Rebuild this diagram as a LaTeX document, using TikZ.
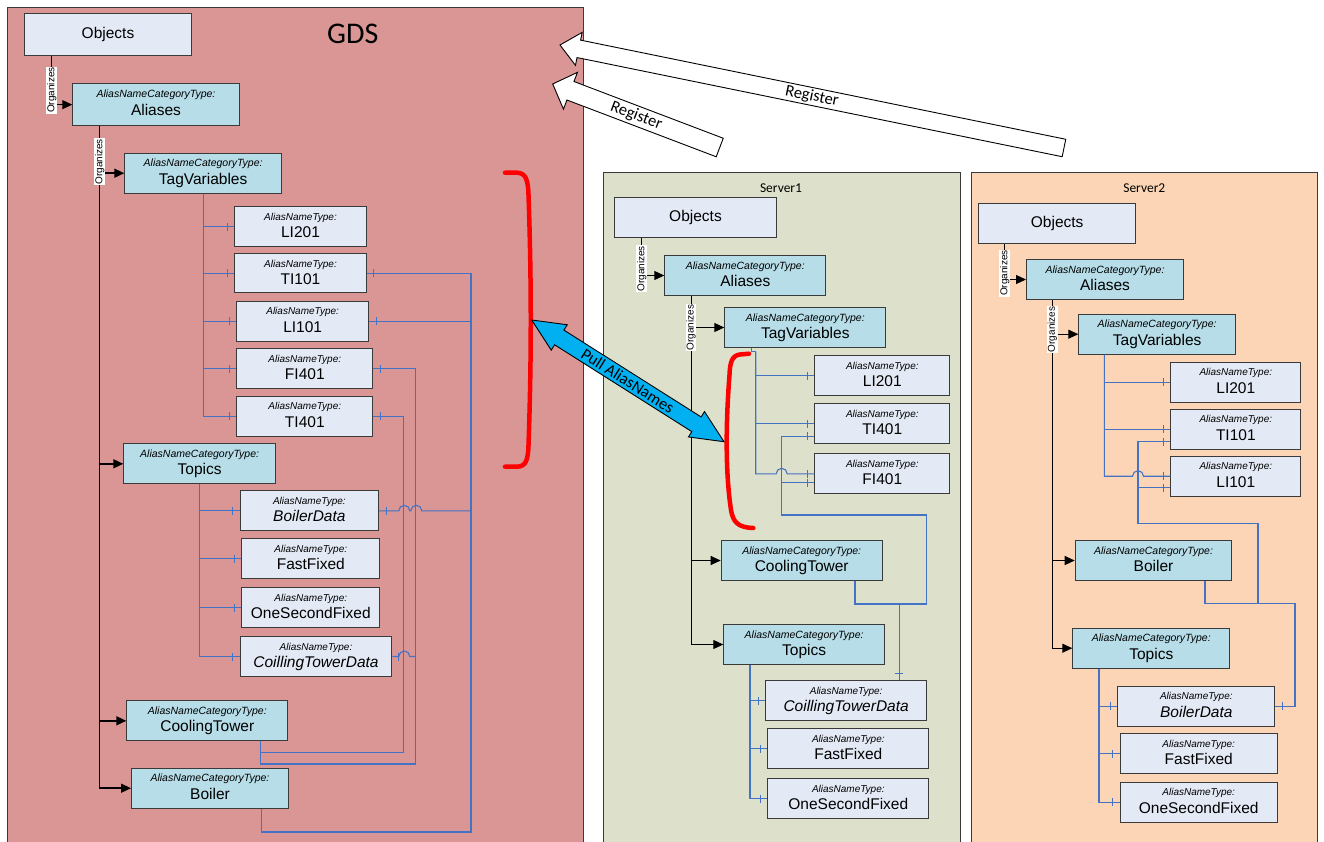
\documentclass[tikz,border=0pt]{standalone}
\usepackage{fontspec}
\setmainfont{Liberation Sans}
\newfontfamily\calfont{Carlito}
\usetikzlibrary{arrows.meta,decorations.markings}
\definecolor{gdsfill}{HTML}{D99694}
\definecolor{sonefill}{HTML}{DDE0CB}
\definecolor{stwofill}{HTML}{FBD5B5}
\definecolor{objfill}{HTML}{E4EAF5}
\definecolor{catfill}{HTML}{B7DDE8}
\definecolor{bdr}{HTML}{3A3A3A}
\definecolor{blu}{HTML}{4472C4}
\definecolor{pull}{HTML}{00B0F0}
\begin{document}
\begin{tikzpicture}[x=1pt,y=-1pt,
  box/.style={draw=bdr,line width=1pt,anchor=north west,inner sep=0pt,minimum height=40pt,font=\fontsize{15.5}{18}\selectfont},
  objbox/.style={box,fill=objfill},
  typlab/.style={anchor=base,yshift=-14pt,inner sep=0pt},
  catbox/.style={box,fill=catfill,text height=22pt,text depth=0pt,
    label={[typlab]north:{\fontsize{10.5}{12}\selectfont\itshape AliasNameCategoryType:}}},
  anbox/.style={box,fill=objfill,text height=22pt,text depth=0pt,
    label={[typlab]north:{\fontsize{10}{12}\selectfont\itshape AliasNameType:}}},
  org/.style={draw=black,line width=1.5pt,-{Triangle[length=10pt,width=9pt]}},
  orgs/.style={org,line width=1pt},
  orglab/.style={fill=white,rotate=90,inner sep=0.7pt,font=\fontsize{10}{11}\selectfont},
  bl/.style={draw=blu,line width=1.1pt},
  tk/.style={postaction={decorate,decoration={markings,mark=at position #1 with {\draw[blu,line width=1pt] (0pt,-4pt) -- (0pt,4pt);}}}},
  tk/.default=-7pt,
  tks/.style={tk=#1},
  tks/.default=7pt,
  redbr/.style={draw=red,line width=4.5pt,line cap=round,line join=round},
  regarrow/.style={draw=black,fill=white,line width=0.9pt,line join=miter},
  reglab/.style={font=\calfont\fontsize{16.5}{18}\selectfont,inner sep=0pt}
]
\useasboundingbox (0,0) rectangle (1324,841);
\clip (0,0) rectangle (1324,841);

% panels
\fill[gdsfill] (7,7) rectangle (583,850);
\draw[bdr,line width=0.9pt] (7,850) -- (7,7) -- (583,7) -- (583,850);
\filldraw[fill=sonefill,draw=bdr,line width=0.9pt] (603.5,172.5) rectangle (960,850);
\filldraw[fill=stwofill,draw=bdr,line width=0.9pt] (971.5,172.5) rectangle (1317,850);
\node[font=\calfont\fontsize{30}{32}\selectfont,inner sep=0pt] (gdsT) at (352.7,33.5) {GDS};
\node[font=\calfont\fontsize{13.5}{15}\selectfont,inner sep=0pt] (soneT) at (781,188) {Server1};
\node[font=\calfont\fontsize{13.5}{15}\selectfont,inner sep=0pt] (stwoT) at (1144.3,188) {Server2};

% GDS nodes
\node[objbox,minimum width=167pt,minimum height=42pt] (GObj) at (24,13) {Objects};
\node[catbox,minimum width=166.4pt,minimum height=41.7pt] (GAli) at (72.3,83.3) {Aliases};
\node[catbox,minimum width=156.7pt] (GTV) at (124.3,152.7) {TagVariables};
\node[anbox,minimum width=131.4pt] (GLI201) at (234.3,206.3) {LI201};
\node[anbox,minimum width=131.4pt,minimum height=39pt] (GTI101) at (234.3,253.3) {TI101};
\node[anbox,minimum width=131.7pt] (GLI101) at (236.3,300.7) {LI101};
\node[anbox,minimum width=136pt] (GFI401) at (236.3,348.3) {FI401};
\node[anbox,minimum width=136pt] (GTI401) at (236.3,395.7) {TI401};
\node[catbox,minimum width=151.7pt] (GTop) at (123.3,443.3) {Topics};
\node[anbox,minimum width=138.3pt] (GBD) at (239.7,490.3) {\itshape BoilerData};
\node[anbox,minimum width=138pt] (GFF) at (241.3,538.3) {FastFixed};
\node[anbox,minimum width=138pt] (GOSF) at (241.3,587.3) {OneSecondFixed};
\node[anbox,minimum width=151.6pt] (GCTD) at (239.7,636) {\itshape CoillingTowerData};
\node[catbox,minimum width=161pt] (GCT) at (126.3,700.3) {CoolingTower};
\node[catbox,minimum width=157pt] (GBoi) at (131,767.7) {Boiler};

% Server1 nodes
\node[objbox,minimum width=161.4pt] (SaObj) at (614.3,197.3) {Objects};
\node[catbox,minimum width=161pt] (SaAli) at (664.3,255) {Aliases};
\node[catbox,minimum width=161pt] (SaTV) at (724.3,307) {TagVariables};
\node[anbox,minimum width=135pt] (SaLI201) at (814.3,355.3) {LI201};
\node[anbox,minimum width=135pt] (SaTI401) at (814.3,403.3) {TI401};
\node[anbox,minimum width=135pt] (SaFI401) at (814.3,453.3) {FI401};
\node[catbox,minimum width=161pt] (SaCT) at (720.7,540) {CoolingTower};
\node[catbox,minimum width=160.7pt] (SaTop) at (723.3,624) {Topics};
\node[anbox,minimum width=160.7pt] (SaCTD) at (765.3,680) {\itshape CoillingTowerData};
\node[anbox,minimum width=161pt] (SaFF) at (767.3,728) {FastFixed};
\node[anbox,minimum width=161pt] (SaOSF) at (767.3,778) {OneSecondFixed};

% Server2 nodes
\node[objbox,minimum width=156.7pt] (SbObj) at (978.3,203.3) {Objects};
\node[catbox,minimum width=157pt] (SbAli) at (1026,259) {Aliases};
\node[catbox,minimum width=156.7pt] (SbTV) at (1078.3,313.7) {TagVariables};
\node[anbox,minimum width=130pt] (SbLI201) at (1170.3,361.7) {LI201};
\node[anbox,minimum width=130pt] (SbTI101) at (1170.3,408.7) {TI101};
\node[anbox,minimum width=130pt] (SbLI101) at (1170.3,455.7) {LI101};
\node[catbox,minimum width=156.6pt] (SbBoi) at (1074.7,540) {Boiler};
\node[catbox,minimum width=157pt] (SbTop) at (1072.3,627.7) {Topics};
\node[anbox,minimum width=157pt] (SbBD) at (1117.3,685.7) {\itshape BoilerData};
\node[anbox,minimum width=157pt] (SbFF) at (1119.7,733.3) {FastFixed};
\node[anbox,minimum width=157pt] (SbOSF) at (1119.7,781.7) {OneSecondFixed};

% ---------- GDS connectors
\draw[org] ([xshift=27.4pt]GAli.south west) |- (GTop.west);
\draw[org] ([xshift=27.4pt]GAli.south west) |- (GCT.west);
\draw[org] ([xshift=27.4pt]GAli.south west) |- (GBoi.west);
\draw[orgs] ([xshift=27.7pt]GObj.south west) |- node[orglab,pos=.35] (gOrgA) {Organizes} (GAli.west);
\draw[org] ([xshift=27.4pt]GAli.south west) |- node[orglab,pos=.38] (gOrgB) {Organizes} (GTV.west);
\foreach \bx in {GLI201,GTI101,GLI101,GFI401,GTI401} \draw[bl,tk] (GTV.south) |- (\bx.west);
\foreach \bx in {GBD,GFF,GOSF,GCTD} \draw[bl,tk] (GTop.south) |- (\bx.west);
\coordinate (gR) at (471,832);
\coordinate (gA) at (403.3,752.3);
\coordinate (gB) at (415.3,764);
\draw[bl,tk] ([xshift=130.7pt]GBoi.south west) |- (gR) |- (GTI101.east);
\draw[bl,tks] (GLI101.east) -- (gR |- GLI101.east);
\draw[bl,tks] (GBD.east) -- ++(19.8,0) arc[start angle=180,end angle=0,radius=5.5pt] -- ++(1,0) arc[start angle=180,end angle=0,radius=5.5pt] -- (gR |- GBD.east);
\draw[bl,tk] ([xshift=134.2pt]GCT.south west) |- (gA) |- (GTI401.east);
\draw[bl,tk] ([xshift=134.2pt]GCT.south west) |- (gB) |- (GFI401.east);
\draw[bl,tks=6pt] (GCTD.east) -- ++(6.5,0) arc[start angle=180,end angle=0,radius=5.5pt] -- (gB |- GCTD.east);

% ---------- Server1 connectors
\draw[orgs] ([xshift=26.7pt]SaAli.south west) |- (SaCT.west);
\draw[orgs] ([xshift=26.7pt]SaAli.south west) |- (SaTop.west);
\draw[orgs] ([xshift=27.4pt]SaObj.south west) |- node[orglab,pos=.41] (sOrgA) {Organizes} (SaAli.west);
\draw[orgs] ([xshift=26.7pt]SaAli.south west) |- node[orglab,pos=.5] (sOrgB) {Organizes} (SaTV.west);
\coordinate (sab) at (755.7,351.7);
\draw[bl] ([xshift=27.4pt]SaTV.south west) |- (sab);
\draw[bl,tk] (sab) |- (SaLI201.west);
\draw[bl,tk] (sab) |- (SaTI401.west);
\draw[bl,tk] (sab) -- (sab |- SaFI401.west) -- ++(20.5,0) arc[start angle=180,end angle=0,radius=5.5pt] -- (SaFI401.west);
\coordinate (sac) at (926.7,604);
\coordinate (sad) at (781.7,515);
\draw[bl,tk] ([xshift=134.3pt]SaCT.south west) |- (sac) |- (sad) |- ([yshift=-12.4pt]SaTI401.west);
\coordinate (saf) at ([yshift=-9pt]SaFI401.west);
\draw[bl,tk] (sad |- saf) -- (saf);
\coordinate (sag) at ([xshift=134pt]SaCTD.north west);
\draw[bl,tk] (sag |- sac) -- (sag);
\foreach \bx in {SaCTD,SaFF,SaOSF} \draw[bl,tk] ([xshift=26.7pt]SaTop.south west) |- (\bx.west);

% ---------- Server2 connectors
\draw[orgs] ([xshift=26.3pt]SbAli.south west) |- (SbBoi.west);
\draw[orgs] ([xshift=26.3pt]SbAli.south west) |- (SbTop.west);
\draw[orgs] ([xshift=26.4pt]SbObj.south west) |- node[orglab,pos=.41] (tOrgA) {Organizes} (SbAli.west);
\draw[orgs] ([xshift=26.3pt]SbAli.south west) |- node[orglab,pos=.43] (tOrgB) {Organizes} (SbTV.west);
\coordinate (sbb) at ([xshift=26pt]SbTV.south west);
\draw[bl,tk] (sbb) |- (SbLI201.west);
\draw[bl,tk] (sbb) |- (SbTI101.west);
\draw[bl,tk] (sbb) -- (sbb |- SbLI101.west) -- ++(28.2,0) arc[start angle=180,end angle=0,radius=5.5pt] -- (SbLI101.west);
\coordinate (sbc) at (1258,603.7);
\coordinate (sbd) at (1138,523.3);
\coordinate (sbe) at (1295,603.7);
\draw[bl,tk] ([xshift=130.3pt]SbBoi.south west) |- (sbc) |- (sbd) |- ([yshift=-12.3pt]SbTI101.west);
\coordinate (sbf) at ([yshift=-11.5pt]SbLI101.west);
\draw[bl,tk] (sbd |- sbf) -- (sbf);
\draw[bl,tk] (sbc) -- (sbe) |- (SbBD.east);
\foreach \bx in {SbBD,SbFF,SbOSF} \draw[bl,tk] ([xshift=26.7pt]SbTop.south west) |- (\bx.west);

% ---------- red brackets
\draw[redbr] (505,172.7) -- (517,172.7) .. controls (526,173) and (528,180) .. (528.5,195)
  .. controls (531.5,280) and (531.5,360) .. (528.5,445) .. controls (528,460) and (526,466.5) .. (517,466.7) -- (505,466.7);
\draw[redbr] (749,353.7) -- (740,354.5) .. controls (732,355.5) and (730,362) .. (729.5,375)
  .. controls (726,420) and (725,470) .. (731,510) .. controls (733,522) and (738,527.5) .. (753.3,528);

% ---------- Register arrows
\begin{scope}[shift={(560,45)},rotate=-11.55]
\draw[regarrow] (0,0) -- (19.2,-16.8) -- (19.2,-8.9) -- (514.4,-8.9) -- (514.4,8.9) -- (19.2,8.9) -- (19.2,16.8) -- cycle;
\node[rotate=-11.55,reglab] (regA) at (257.2,0) {Register};
\end{scope}
\begin{scope}[shift={(552.7,84)},rotate=-20.82]
\draw[regarrow] (0,0) -- (19,-19.7) -- (19,-9.9) -- (178.7,-9.9) -- (178.7,9.9) -- (19,9.9) -- (19,19.7) -- cycle;
\node[rotate=-20.82,reglab] (regB) at (89.4,0) {Register};
\end{scope}

% ---------- Pull AliasNames
\begin{scope}[shift={(531.7,320)},rotate=-32.33]
\draw[fill=pull,draw=black,line width=0.9pt,line join=miter] (0,0) -- (32.6,-15) -- (32.6,-8.7) -- (195,-8.7) -- (195,-15) -- (227.6,0) -- (195,15) -- (195,8.7) -- (32.6,8.7) -- (32.6,15) -- cycle;
\node[rotate=-32.33,reglab] (pullT) at (113.8,0) {Pull AliasNames};
\end{scope}
\end{tikzpicture}
\end{document}
